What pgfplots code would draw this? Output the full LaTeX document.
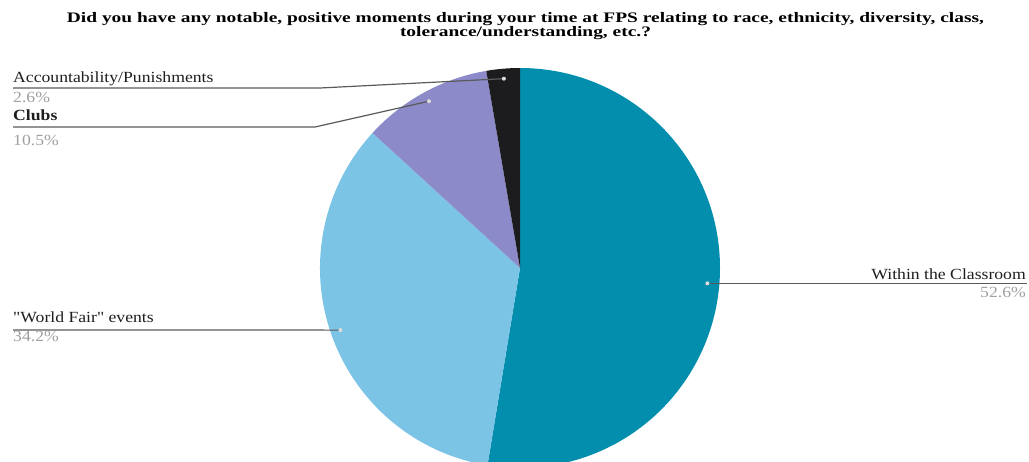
\documentclass[border=0pt]{standalone}
\usepackage{pgfplots}
\pgfplotsset{compat=1.18}
\usepackage{fontspec}
\setmainfont{Liberation Serif}
\newfontfamily\labfont[FakeStretch=1.14]{Liberation Serif}
\newfontfamily\titfont[FakeStretch=1.34]{Liberation Serif}
\definecolor{cA}{RGB}{4,142,173}
\definecolor{cB}{RGB}{124,196,230}
\definecolor{cC}{RGB}{140,138,201}
\definecolor{cD}{RGB}{28,28,30}
\definecolor{lab}{RGB}{30,30,30}
\definecolor{pct}{RGB}{160,160,160}
\definecolor{lead}{RGB}{90,90,90}
\definecolor{dot}{RGB}{220,220,220}
% data (percent of responses)
\def\vA{52.6}% Within the Classroom
\def\vB{34.2}% "World Fair" events
\def\vC{10.5}% Clubs
\def\vD{2.6}%  Accountability/Punishments
\pgfmathsetmacro\aA{90}
\pgfmathsetmacro\aB{90-3.6*\vA}
\pgfmathsetmacro\aC{\aB-3.6*\vB}
\pgfmathsetmacro\aD{\aC-3.6*\vC}
\pgfmathsetmacro\aE{-270}
\pgfmathsetmacro\mA{(\aA+\aB)/2}
\pgfmathsetmacro\mB{(\aB+\aC)/2}
\pgfmathsetmacro\mC{(\aC+\aD)/2}
\pgfmathsetmacro\mD{(\aD+\aE)/2}
\begin{document}
\begin{tikzpicture}
\begin{axis}[width=1029pt,height=461pt,scale only axis,hide axis,
  xmin=0,xmax=1029,ymin=0,ymax=461,clip=true]
\path (rel axis cs:0,0) rectangle (rel axis cs:1,1);
\fill[cA] (axis cs:520,193) -- ++(\aA:200pt) arc[start angle=\aA,end angle=\aB,radius=200pt] -- cycle;
\fill[cB] (axis cs:520,193) -- ++(\aB:200pt) arc[start angle=\aB,end angle=\aC,radius=200pt] -- cycle;
\fill[cC] (axis cs:520,193) -- ++(\aC:200pt) arc[start angle=\aC,end angle=\aD,radius=200pt] -- cycle;
\fill[cD] (axis cs:520,193) -- ++(\aD:200pt) arc[start angle=\aD,end angle=\aE,radius=200pt] -- cycle;
% leader line end points (in the middle of each slice)
\path (axis cs:520,193) ++(\mA:188pt) coordinate (pA);
\path (axis cs:520,193) ++(\mB:190pt) coordinate (pB);
\path (axis cs:520,193) ++(\mC:190pt) coordinate (pC);
\path (axis cs:520,193) ++(\mD:190pt) coordinate (pD);
\draw[lead,line width=1.2pt] (pA) -- (pA -| {axis cs:1027,178});
\draw[lead,line width=1.2pt] (axis cs:13,131) -- (pB);
\draw[lead,line width=1.2pt] (axis cs:13,334) -- (axis cs:315,334) -- (pC);
\draw[lead,line width=1.2pt] (axis cs:13,373) -- (axis cs:320,373) -- (pD);
\fill[dot] (pA) circle[radius=2pt];
\fill[dot] (pB) circle[radius=2pt];
\fill[dot] (pC) circle[radius=2pt];
\fill[dot] (pD) circle[radius=2pt];
% labels
\node[anchor=base east,inner sep=0pt,text=lab,font=\labfont\fontsize{15.5}{18}\selectfont] at (axis cs:1026,181) {Within the Classroom};
\node[anchor=base east,inner sep=0pt,text=pct,font=\labfont\fontsize{15.5}{18}\selectfont] at (axis cs:1026,163) {52.6\%};
\node[anchor=base west,inner sep=0pt,text=lab,font=\labfont\fontsize{15.5}{18}\selectfont] at (axis cs:13,138) {"World Fair" events};
\node[anchor=base west,inner sep=0pt,text=pct,font=\labfont\fontsize{15.5}{18}\selectfont] at (axis cs:13,119) {34.2\%};
\node[anchor=base west,inner sep=0pt,text=lab,font=\labfont\fontsize{15.5}{18}\selectfont\bfseries] at (axis cs:13,340) {Clubs};
\node[anchor=base west,inner sep=0pt,text=pct,font=\labfont\fontsize{15.5}{18}\selectfont] at (axis cs:13,315) {10.5\%};
\node[anchor=base west,inner sep=0pt,text=lab,font=\labfont\fontsize{15.5}{18}\selectfont] at (axis cs:13,378) {Accountability/Punishments};
\node[anchor=base west,inner sep=0pt,text=pct,font=\labfont\fontsize{15.5}{18}\selectfont] at (axis cs:13,358) {2.6\%};
% title
\node[anchor=base,inner sep=0pt,font=\titfont\bfseries\fontsize{14.5}{16}\selectfont] at (axis cs:525.5,438) {Did you have any notable, positive moments during your time at FPS relating to race, ethnicity, diversity, class,};
\node[anchor=base,inner sep=0pt,font=\titfont\bfseries\fontsize{14.5}{16}\selectfont] at (axis cs:525.5,424) {tolerance/understanding, etc.?};
\end{axis}
\end{tikzpicture}
\end{document}
